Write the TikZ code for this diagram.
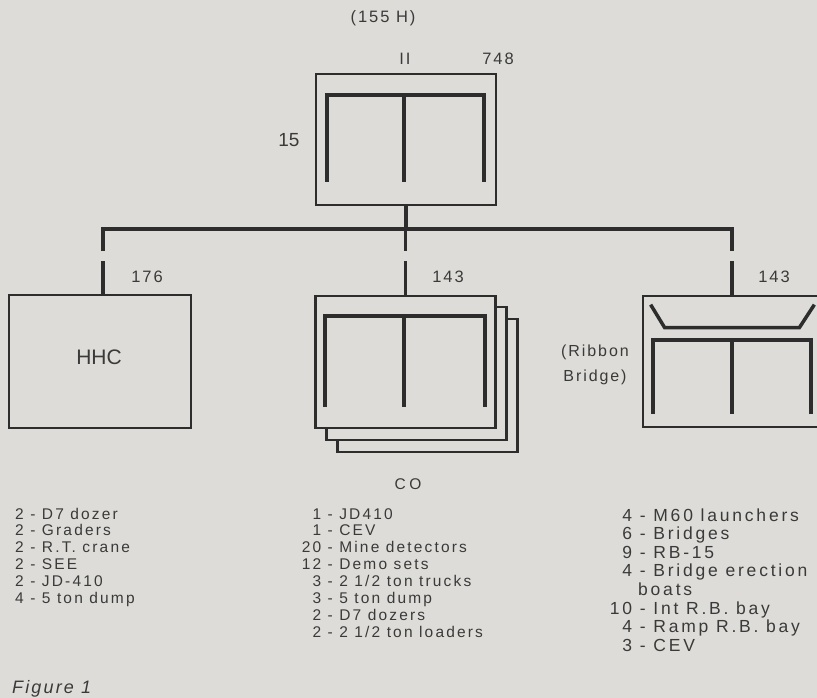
\documentclass[tikz,border=0pt]{standalone}
\usepackage{fontspec}
\setmainfont{Liberation Sans}
\newfontfamily\fA[LetterSpace=14]{Liberation Sans}
\newfontfamily\fB[LetterSpace=16]{Liberation Sans}
\newfontfamily\fC[LetterSpace=12]{Liberation Sans}
\newfontfamily\fD[LetterSpace=22]{Liberation Sans}
\usetikzlibrary{calc}
\definecolor{bg}{RGB}{221,220,216}
\definecolor{ink}{RGB}{45,45,45}
\definecolor{txt}{RGB}{58,58,58}
\newcommand\myrow[2]{\llap{#1} - #2}
\begin{document}
\begin{tikzpicture}[x=1pt,y=-1pt,
  unitbox/.style={draw=ink, line width=2.7pt, fill=bg, rectangle, inner sep=0pt},
  sym/.style={draw=ink, line width=4pt},
  conn/.style={draw=ink, line width=3.2pt},
  lst/.style={text=txt, anchor=base west, inner sep=0pt, font=\fA\fontsize{15.5}{17}\selectfont},
  lstr/.style={text=txt, anchor=base west, inner sep=0pt, font=\fB\fontsize{17.5}{19}\selectfont},
  lbl/.style={text=txt, inner sep=0pt, font=\fC\fontsize{16.5}{18}\selectfont},
]
\fill[bg] (0,0) rectangle (817,698);
\useasboundingbox (0,0) rectangle (817,698);
\clip (0,0) rectangle (817,698);

% ---- top unit ----
\node[unitbox, minimum width=180pt, minimum height=131pt] (bn) at (406,139.5) {};
\draw[sym] ($(bn.north west)+(12,109)$) |- ($(bn.north east)+(-13,22)$) -- ($(bn.north east)+(-13,109)$);
\draw[sym] ($(bn.north)+(-2,22)$) -- ($(bn.north)+(-2,109)$);
\node[lbl] (t155) at (383,18) {(155 H)};
\node[lbl] (tII) at (405,59) {II};
\node[lbl] (t748) at (498,59) {748};
\node[text=txt, inner sep=0pt, font=\fontsize{19}{21}\selectfont] (t15) at (289,140) {15};

% ---- subordinate units ----
\node[unitbox, minimum width=182pt, minimum height=133pt] (hhc) at (100,361.5) {};
\node[text=txt, inner sep=0pt, font=\fontsize{21}{23}\selectfont] (thhc) at (99,357) {HHC};

\node[unitbox, minimum width=180pt, minimum height=133pt] (co3) at (427.5,385.5) {};
\node[unitbox, minimum width=180pt, minimum height=133pt] (co2) at (416.5,373.5) {};
\node[unitbox, minimum width=180pt, minimum height=132pt] (co1) at (405.5,362) {};
\draw[sym] ($(co1.north west)+(11,112)$) |- ($(co1.north east)+(-12,21)$) -- ($(co1.north east)+(-12,112)$);
\draw[sym] ($(co1.north)+(-1.5,21)$) -- ($(co1.north)+(-1.5,112)$);

\node[unitbox, minimum width=178pt, minimum height=131pt] (rb) at (732,361.5) {};
\draw[draw=ink, line width=3.5pt] ($(rb.north west)+(9,10)$) -- ($(rb.north west)+(23,33)$) -- ($(rb.north east)+(-23,33)$) -- ($(rb.north east)+(-8,10)$);
\draw[sym] ($(rb.north west)+(11,119)$) |- ($(rb.north east)+(-11,45)$) -- ($(rb.north east)+(-11,119)$);
\draw[sym] ($(rb.north)+(0,45)$) -- ($(rb.north)+(0,119)$);

% ---- connectors ----
\coordinate (barL) at (103,229);
\coordinate (barR) at (732,229);
\coordinate (gapA) at (0,251);
\coordinate (gapB) at (0,261);
\draw[conn] (bn.south) -- (bn.south |- barL);
\draw[conn] (barL |- gapA) -- (barL) -- (barR) -- (barR |- gapA);
\draw[conn] (co1.north |- barL) -- (co1.north |- gapA);
\draw[conn] (barL |- gapB) -- (barL |- hhc.north);
\draw[conn] (co1.north |- gapB) -- (co1.north);
\draw[conn] (barR |- gapB) -- (rb.north);

\node[lbl] (t176) at (147,277) {176};
\node[lbl] (t143a) at (448,277) {143};
\node[lbl] (t143b) at (774,277) {143};
\node[text=txt, inner sep=0pt, font=\fC\fontsize{16}{18}\selectfont] (trb1) at (595,352) {(Ribbon};
\node[text=txt, inner sep=0pt, font=\fC\fontsize{16}{18}\selectfont] (trb2) at (595,377) {Bridge)};
\node[text=txt, inner sep=0pt, font=\fD\fontsize{15.5}{17}\selectfont] (tco) at (408,484) {CO};

% ---- lists ----
\node[lst] (l1) at (15,519) {2 - D7 dozer};
\node[lst] (l2) at (15,535.9) {2 - Graders};
\node[lst] (l3) at (15,552.8) {2 - R.T. crane};
\node[lst] (l4) at (15,569.7) {2 - SEE};
\node[lst] (l5) at (15,586.6) {2 - JD-410};
\node[lst] (l6) at (15,603.5) {4 - 5 ton dump};
\node[lst, font=\fC\itshape\fontsize{18}{20}\selectfont] (fig) at (12,693) {Figure 1};

\node[lst] (c1) at (321,519) {\myrow{1}{JD410}};
\node[lst] (c2) at (321,535.9) {\myrow{1}{CEV}};
\node[lst] (c3) at (321,552.8) {\myrow{20}{Mine detectors}};
\node[lst] (c4) at (321,569.7) {\myrow{12}{Demo sets}};
\node[lst] (c5) at (321,586.6) {\myrow{3}{2 1/2 ton trucks}};
\node[lst] (c6) at (321,603.5) {\myrow{3}{5 ton dump}};
\node[lst] (c7) at (321,620.4) {\myrow{2}{D7 dozers}};
\node[lst] (c8) at (321,637.3) {\myrow{2}{2 1/2 ton loaders}};

\node[lstr] (r1) at (632,521) {\myrow{4}{M60 launchers}};
\node[lstr] (r2) at (632,539.6) {\myrow{6}{Bridges}};
\node[lstr] (r3) at (632,558.2) {\myrow{9}{RB-15}};
\node[lstr] (r4) at (632,576.8) {\myrow{4}{Bridge erection}};
\node[lstr] (r5) at (638,595.4) {boats};
\node[lstr] (r6) at (632,614) {\myrow{10}{Int R.B. bay}};
\node[lstr] (r7) at (632,632.6) {\myrow{4}{Ramp R.B. bay}};
\node[lstr] (r8) at (632,651.2) {\myrow{3}{CEV}};
\end{tikzpicture}
\end{document}
